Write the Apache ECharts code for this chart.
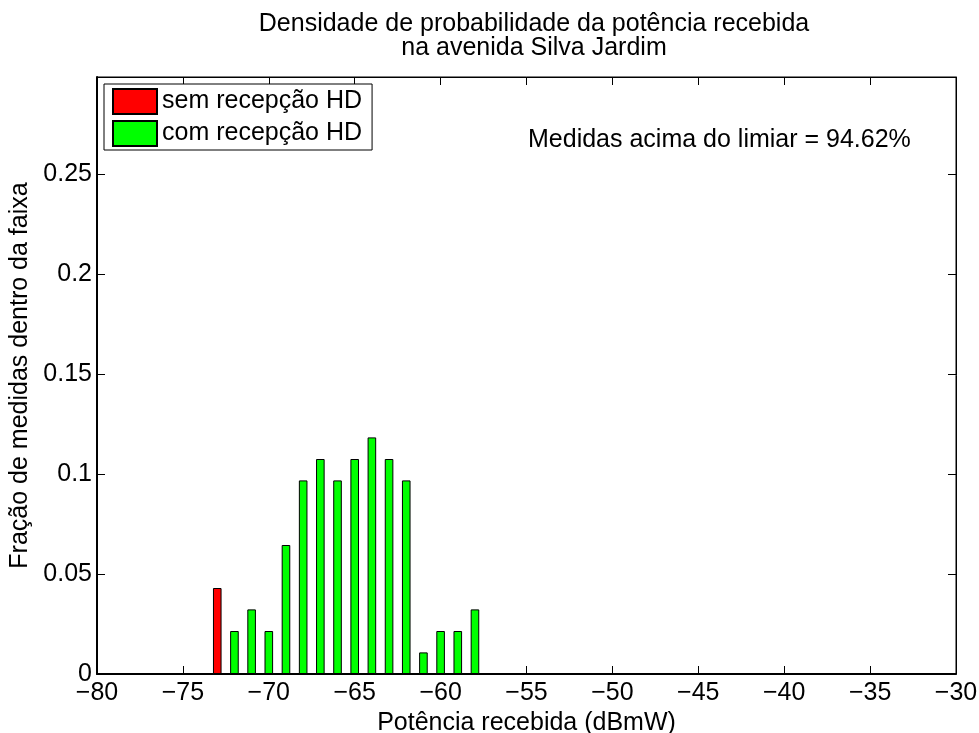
<!DOCTYPE html>
<html>
<head>
<meta charset="utf-8">
<script src="https://cdn.jsdelivr.net/npm/echarts@6/dist/echarts.min.js"></script>
<style>
html,body{margin:0;padding:0;background:#fff;}
#chart{width:979px;height:733px;}
</style>
</head>
<body>
<div id="chart"></div>
<script>
const titleLines = ['Densidade de probabilidade da potência recebida', 'na avenida Silva Jardim'];
const xAxisTitle = 'Potência recebida (dBmW)';
const yAxisTitle = 'Fração de medidas dentro da faixa';
const annotation = 'Medidas acima do limiar = 94.62%';
const seriesNames = ['sem recepção HD', 'com recepção HD'];

const semX = [-73];
const semY = [0.0430];
const comX = [-72, -71, -70, -69, -68, -67, -66, -65, -64, -63, -62, -61, -60, -59, -58];
const comY = [0.0215, 0.0323, 0.0215, 0.0645, 0.0968, 0.1075, 0.0968, 0.1075, 0.1183, 0.1075, 0.0968, 0.0108, 0.0215, 0.0215, 0.0323];

const xMin = -80, xMax = -30, xStep = 5;
const yMin = 0, yMax = 0.2985, yStep = 0.05;

const FONT = '"Liberation Sans", Arial, Helvetica, sans-serif';
const FS = 25;

const chart = echarts.init(document.getElementById('chart'), null, {renderer: 'canvas'});

function pairs(xs, ys) { return xs.map((x, i) => [x, ys[i]]); }

const tickCommon = {show: true, inside: true, length: 8, lineStyle: {color: '#000', width: 1}};

chart.setOption({
  backgroundColor: '#fff',
  animation: false,
  title: {
    text: titleLines.join('\n'),
    left: 529, top: 7, textAlign: 'center',
    textStyle: {fontFamily: FONT, fontSize: FS, fontWeight: 'normal', color: '#000', lineHeight: 24}
  },
  grid: {left: 97, right: 23, top: 77, bottom: 59, show: true, borderColor: '#000', borderWidth: 1,
    backgroundColor: '#fff', containLabel: false, outerBoundsMode: 'none'},
  legend: {
    orient: 'vertical', left: 104, top: 84,
    padding: [4, 10, 3, 8], itemGap: 5,
    itemWidth: 44, itemHeight: 25,
    backgroundColor: '#fff', borderColor: '#000', borderWidth: 1,
    borderRadius: 0,
    icon: 'rect',
    textStyle: {fontFamily: FONT, fontSize: FS, color: '#000', lineHeight: 25},
    data: seriesNames
  },
  xAxis: [{
    type: 'value', min: xMin, max: xMax, interval: xStep, position: 'bottom',
    name: xAxisTitle, nameLocation: 'middle', nameGap: 34,
    nameTextStyle: {fontFamily: FONT, fontSize: FS, color: '#000'},
    axisLine: {show: true, onZero: false, lineStyle: {color: '#000', width: 2}},
    axisTick: tickCommon,
    axisLabel: {fontFamily: FONT, fontSize: FS, color: '#000', margin: 7,
      formatter: v => String(v).replace('-', '\u2212')},
    splitLine: {show: false}
  }, {
    type: 'value', min: xMin, max: xMax, interval: xStep, position: 'top',
    axisLine: {show: true, onZero: false, lineStyle: {color: '#000', width: 1}},
    axisTick: tickCommon, axisLabel: {show: false}, splitLine: {show: false}
  }],
  yAxis: [{
    type: 'value', min: yMin, max: yMax, interval: yStep, position: 'left',
    name: yAxisTitle, nameLocation: 'middle', nameGap: 64, nameRotate: 90,
    nameTextStyle: {fontFamily: FONT, fontSize: FS, color: '#000'},
    axisLine: {show: true, onZero: false, lineStyle: {color: '#000', width: 2}},
    axisTick: tickCommon,
    axisLabel: {fontFamily: FONT, fontSize: FS, color: '#000', margin: 5, showMaxLabel: false},
    splitLine: {show: false}
  }, {
    type: 'value', min: yMin, max: yMax, interval: yStep, position: 'right',
    axisLine: {show: true, onZero: false, lineStyle: {color: '#000', width: 1}},
    axisTick: tickCommon, axisLabel: {show: false}, splitLine: {show: false}
  }],
  series: [{
    name: seriesNames[0], type: 'bar', xAxisIndex: 0, yAxisIndex: 0,
    barWidth: 8.6, barGap: '-100%',
    itemStyle: {color: '#ff0000', borderColor: '#000', borderWidth: 1},
    data: pairs(semX, semY)
  }, {
    name: seriesNames[1], type: 'bar', xAxisIndex: 0, yAxisIndex: 0,
    barWidth: 8.6, barGap: '-100%',
    itemStyle: {color: '#00ff00', borderColor: '#000', borderWidth: 1},
    data: pairs(comX, comY)
  }],
  graphic: [{
    type: 'text', left: 528, top: 128,
    style: {text: annotation, fontFamily: FONT, fontSize: FS, fill: '#000'}
  }]
});
</script>
</body>
</html>
